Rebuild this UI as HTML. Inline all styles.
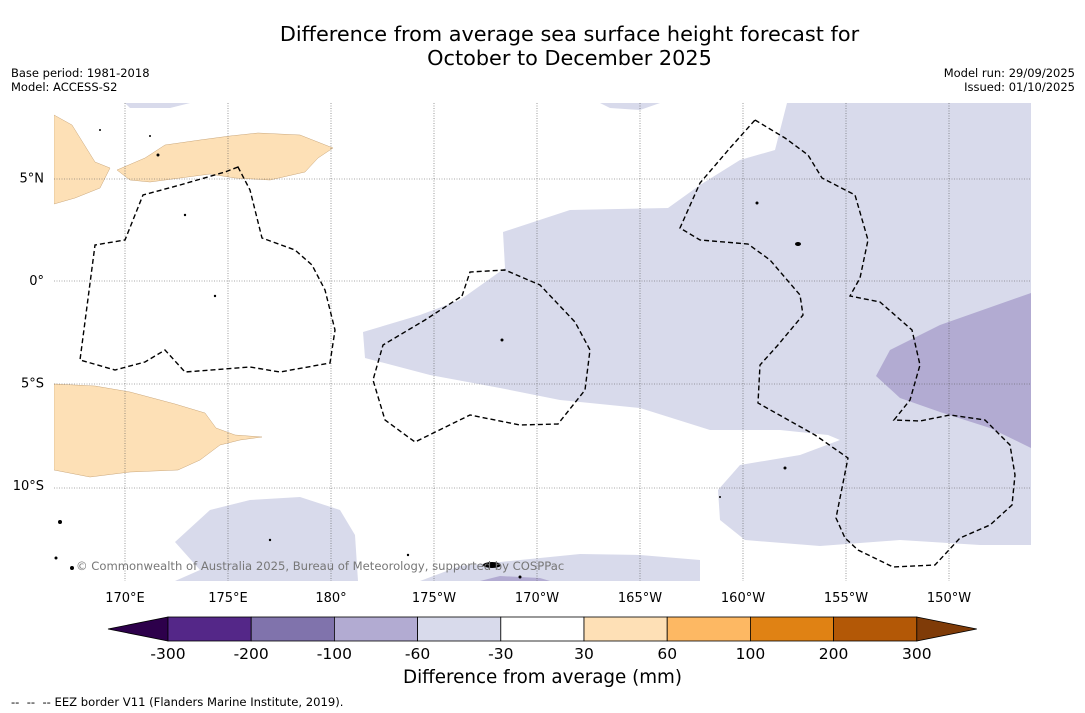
<!DOCTYPE html>
<html><head><meta charset="utf-8"><style>
body{margin:0;width:1085px;height:713px;background:#fff;font-family:"DejaVu Sans","Liberation Sans",sans-serif;position:relative;overflow:hidden}
.t{position:absolute;white-space:nowrap;color:#000}
</style></head><body>
<div class="t" style="left:0;width:1139px;top:22px;text-align:center;font-size:20.8px;line-height:24px">Difference from average sea surface height forecast for<br>October to December 2025</div>
<div class="t" style="left:11px;top:66px;font-size:11.5px;line-height:14px">Base period: 1981-2018<br>Model: ACCESS-S2</div>
<div class="t" style="right:10px;top:66px;font-size:11.5px;line-height:14px;text-align:right">Model run: 29/09/2025<br>Issued: 01/10/2025</div>
<svg width="1085" height="713" style="position:absolute;left:0;top:0">
<defs><clipPath id="mc"><rect x="54" y="103" width="977" height="478"/></clipPath></defs>
<g clip-path="url(#mc)">
<path fill="#d8daeb" d="M363,332 L420,315 L460,300 L505,268 L503,232 L570,210 L668,208 L700,185 L740,160 L775,150 L787,103 L1031,103 L1031,168 L1000,175 L955,183 L880,183 L852,170 L850,135 L870,103 L1031,103 L1031,545 L980,545 L900,540 L820,546 L745,540 L720,520 L718,490 L740,465 L800,455 L840,440 L828,435 L780,430 L710,430 L640,408 L560,400 L500,388 L430,375 L365,358 Z"/>
<path fill="#d8daeb" d="M125,103 L190,103 L170,108 L130,108 Z M600,103 L660,103 L640,110 L610,108 Z M910,103 L1031,103 L1031,120 L960,108 Z"/>
<path fill="#b2abd2" d="M876,376 L890,350 L940,325 L1031,293 L1031,448 L990,428 L940,412 L900,398 Z"/>
<path fill="#d8daeb" d="M175,542 L210,510 L250,500 L300,497 L340,510 L355,535 L358,581 L175,581 L200,570 Z"/>
<path fill="#d8daeb" d="M420,581 L460,566 L520,560 L580,554 L640,555 L700,560 L700,581 Z"/>
<path fill="#b2abd2" d="M480,581 L500,576 L540,578 L550,581 Z"/>
<path fill="#fde0b6" stroke="#c9a67a" stroke-width=".5" d="M54,115 L72,125 L95,162 L110,168 L100,188 L75,198 L54,204 Z M117,170 L145,158 L165,145 L200,140 L230,136 L258,133 L300,135 L333,148 L318,158 L305,172 L270,180 L235,178 L210,174 L180,178 L150,182 L130,180 Z"/>
<path fill="#fde0b6" stroke="#c9a67a" stroke-width=".5" d="M54,384 L95,386 L130,392 L175,404 L205,413 L216,428 L235,435 L262,437 L240,440 L220,445 L200,460 L178,470 L130,472 L90,477 L54,470 Z"/>
<g stroke="#555" stroke-width=".6" stroke-dasharray="1,1.5">
<line x1="125" y1="103" x2="125" y2="581"/><line x1="228" y1="103" x2="228" y2="581"/><line x1="331" y1="103" x2="331" y2="581"/><line x1="434" y1="103" x2="434" y2="581"/><line x1="537" y1="103" x2="537" y2="581"/><line x1="640" y1="103" x2="640" y2="581"/><line x1="743" y1="103" x2="743" y2="581"/><line x1="846" y1="103" x2="846" y2="581"/><line x1="949" y1="103" x2="949" y2="581"/>
<line x1="54" y1="179" x2="1031" y2="179"/><line x1="54" y1="281" x2="1031" y2="281"/><line x1="54" y1="384" x2="1031" y2="384"/><line x1="54" y1="488" x2="1031" y2="488"/>
</g>
<g fill="none" stroke="#000" stroke-width="1.4" stroke-dasharray="5,3">
<path d="M238,167 L225,172 L180,185 L143,195 L125,240 L95,245 L80,360 L115,370 L145,362 L165,350 L185,372 L250,367 L280,372 L330,363 L335,330 L325,290 L312,265 L295,250 L262,238 L250,190 Z"/>
<path d="M462,296 L470,272 L505,270 L540,285 L575,322 L590,350 L585,390 L558,424 L520,425 L470,415 L415,442 L385,420 L373,380 L383,345 L425,320 Z"/>
<path d="M755,120 L785,138 L808,155 L822,178 L855,195 L868,240 L860,278 L850,296 L880,302 L912,330 L920,365 L910,400 L894,420 L920,421 L950,415 L985,420 L1010,445 L1015,475 L1012,505 L990,525 L960,538 L935,565 L893,567 L858,550 L845,538 L836,518 L848,458 L815,435 L758,403 L760,365 L778,345 L803,315 L800,295 L770,260 L748,244 L700,240 L680,228 L700,183 L730,148 Z"/>
</g>
<g fill="#000">
<circle cx="60" cy="522" r="2"/><circle cx="72" cy="568" r="2"/><circle cx="56" cy="558" r="1.5"/><ellipse cx="492" cy="565" rx="9" ry="3"/><ellipse cx="798" cy="244" rx="3" ry="2"/><circle cx="502" cy="340" r="1.5"/><circle cx="757" cy="203" r="1.5"/><circle cx="785" cy="468" r="1.5"/><circle cx="215" cy="296" r="1.2"/><circle cx="185" cy="215" r="1.2"/><circle cx="158" cy="155" r="1.5"/><circle cx="100" cy="130" r="1"/><circle cx="150" cy="136" r="1"/><circle cx="270" cy="540" r="1.2"/><circle cx="408" cy="555" r="1.2"/><circle cx="520" cy="577" r="1.5"/><circle cx="720" cy="497" r="1"/>
</g>
<text x="76" y="570" font-size="11.6" fill="#777">© Commonwealth of Australia 2025, Bureau of Meteorology, supported by COSPPac</text>
</g>
<g id="ticks" font-size="13" fill="#000"></g>
<g id="cbar"></g>
</svg>
<div class="t" style="left:0;width:1085px;text-align:center;top:667px;font-size:18.3px">Difference from average (mm)</div>
<div class="t" style="left:11px;top:695px;font-size:11.6px">--&nbsp; --&nbsp; -- EEZ border V11 (Flanders Marine Institute, 2019).</div>
<script>
const lonLabels=["170°E","175°E","180°","175°W","170°W","165°W","160°W","155°W","150°W"];
const lonValues=[170,175,180,185,190,195,200,205,210];
const latLabels=["5°N","0°","5°S","10°S"];
const latValues=[5,0,-5,-10];
const levels=["-300","-200","-100","-60","-30","30","60","100","200","300"];
const colors=["#542788","#8073ac","#b2abd2","#d8daeb","#ffffff","#fee0b6","#fdb863","#e08214","#b35806"];
const NS="http://www.w3.org/2000/svg";
const xOf=l=>125+(l-170)*20.6, yOf=l=>281-l*20.5;
const tg=document.getElementById('ticks');
lonLabels.forEach((s,i)=>{const t=document.createElementNS(NS,'text');t.setAttribute('x',xOf(lonValues[i]));t.setAttribute('y',602);t.setAttribute('text-anchor','middle');t.textContent=s;


tg.appendChild(t);});
latLabels.forEach((s,i)=>{const t=document.createElementNS(NS,'text');t.setAttribute('x',44);t.setAttribute('y',yOf(latValues[i])+4);t.setAttribute('text-anchor','end');t.textContent=s;


tg.appendChild(t);});
const cb=document.getElementById('cbar');
const x0=168,w=83.2,y0=617,h=24;
function add(tag,attrs){const e=document.createElementNS(NS,tag);for(const k in attrs)e.setAttribute(k,attrs[k]);cb.appendChild(e);return e;}
const lt=add('polygon',{points:`108,629 ${x0},${y0} ${x0},${y0+h}`,fill:'#2d004b',stroke:'#000','stroke-width':0.8});


colors.forEach((c,i)=>{const r=add('rect',{x:x0+i*w,y:y0,width:w,height:h,fill:c,stroke:'#000','stroke-width':0.8});

});
const xe=x0+colors.length*w;
const rt=add('polygon',{points:`${xe},${y0} ${xe+60},629 ${xe},${y0+h}`,fill:'#7f3b08',stroke:'#000','stroke-width':0.8});


levels.forEach((s,i)=>{const t=add('text',{x:x0+i*w,y:659,'font-size':15.5,'text-anchor':'middle'});t.textContent=s;

});
</script>
</body></html>
